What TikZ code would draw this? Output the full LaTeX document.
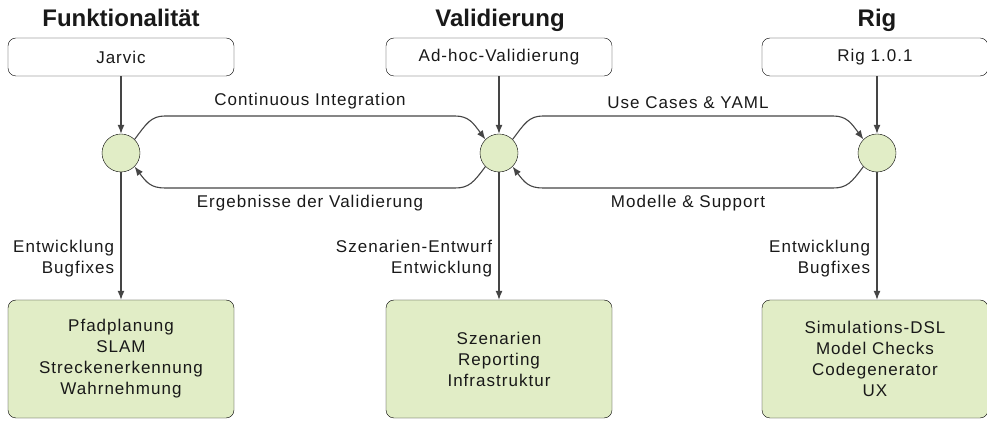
\documentclass[tikz,border=0pt]{standalone}
\usepackage{fontspec}
\setmainfont{Liberation Sans}[LetterSpace=6]
\newfontfamily\titlefont{Liberation Sans}
\usetikzlibrary{arrows.meta}
\definecolor{paleGreen}{HTML}{E1EDC6}
\definecolor{lineGray}{HTML}{454545}

\begin{document}
\begin{tikzpicture}[x=1pt, y=1pt,
	font=\fontsize{17}{21}\selectfont, text=black!90,
	title/.style = {font=\titlefont\fontsize{24}{28}\selectfont\bfseries, anchor=base},
	source/.style = {draw, rounded corners=8pt, minimum width=226pt, minimum height=38pt, fill=white},
	target/.style = {draw, rounded corners=8pt, minimum width=226pt, minimum height=118pt, fill=paleGreen, align=center},
	hub/.style = {draw, circle, minimum size=38pt, inner sep=0pt, fill=paleGreen},
	flow/.style = {draw=lineGray, line width=1.1pt, -{Latex[length=9pt, width=7pt]}},
	task/.style = {left=3pt, align=right, pos=0.68}]

\useasboundingbox (0, 0) rectangle (987, 420);

% Spalten
\node[title] (tFunk) at (121, 393) {Funktionalität};
\node[title] (tVal) at (500, 393) {Validierung};
\node[title] (tRig) at (877, 393) {Rig};

\node[source] (jarvic) at (121, 363) {Jarvic};
\node[source] (adhoc) at (499, 363) {Ad-hoc-Validierung};
\node[source] (rig) at (875, 363) {Rig 1.0.1};

\node[hub] (hFunk) at (121, 267) {};
\node[hub] (hVal) at (499, 267) {};
\node[hub] (hRig) at (877, 267) {};

\node[target] (funk) at (121, 61) {Pfadplanung\\SLAM\\Streckenerkennung\\Wahrnehmung};
\node[target] (val) at (499, 61) {Szenarien\\Reporting\\Infrastruktur};
\node[target] (rigdsl) at (875, 61) {Simulations-DSL\\Model Checks\\Codegenerator\\UX};

\draw[flow] (jarvic) -- (hFunk);
\draw[flow] (adhoc) -- (hVal);
\draw[flow] (rig.south -| hRig) -- (hRig);

\draw[flow] (hFunk) -- node[task] {Entwicklung\\Bugfixes} (funk);
\draw[flow] (hVal) -- node[task] {Szenarien-Entwurf\\Entwicklung} (val);
\draw[flow] (hRig) -- node[task] {Entwicklung\\Bugfixes} (rigdsl.north -| hRig);

% Querverbindungen
\draw[flow]
	(hFunk.45) .. controls +(12, 16) and +(-14, 0) ..
	(165, 304) -- node[midway, above=3pt] {Continuous Integration}
	(455, 304) .. controls +(14, 0) and +(-12, 16) ..
	(hVal.135);
\draw[flow]
	(hVal.45) .. controls +(12, 16) and +(-14, 0) ..
	(543, 304) -- node[midway, above=3pt] {Use Cases \& YAML}
	(833, 304) .. controls +(14, 0) and +(-12, 16) ..
	(hRig.135);
\draw[flow]
	(hVal.225) .. controls +(-12, -16) and +(14, 0) ..
	(455, 232) -- node[midway, below=3pt] {Ergebnisse der Validierung}
	(165, 232) .. controls +(-14, 0) and +(12, -16) ..
	(hFunk.-45);
\draw[flow]
	(hRig.225) .. controls +(-12, -16) and +(14, 0) ..
	(833, 232) -- node[midway, below=3pt] {Modelle \& Support}
	(543, 232) .. controls +(-14, 0) and +(12, -16) ..
	(hVal.-45);
\end{tikzpicture}
\end{document}
